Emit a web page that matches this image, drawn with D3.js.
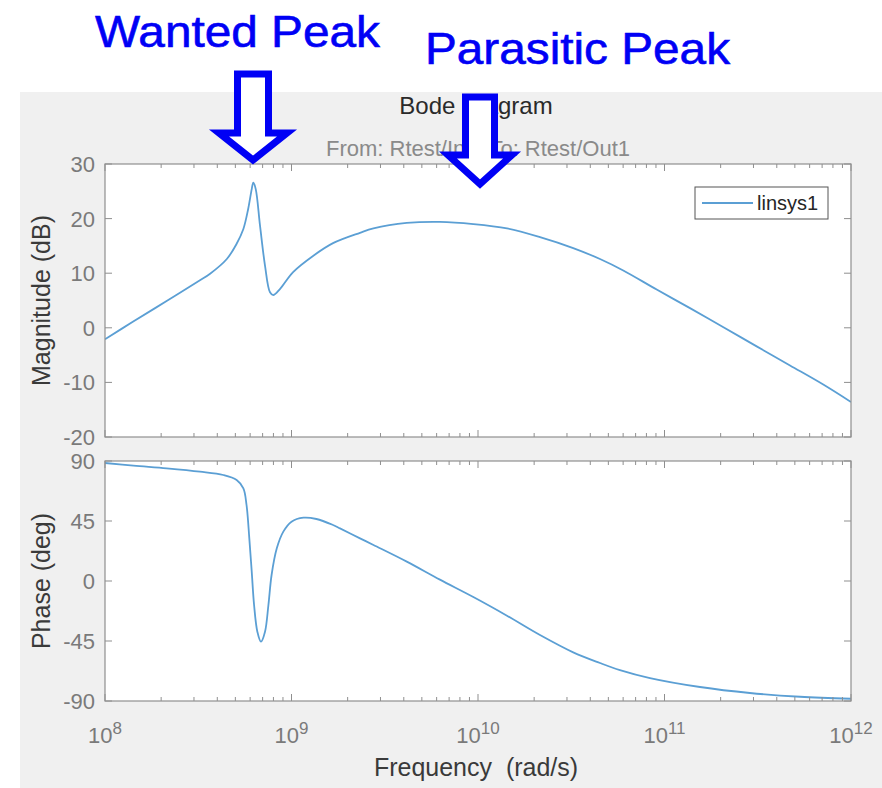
<!DOCTYPE html>
<html><head><meta charset="utf-8">
<script src="https://cdn.jsdelivr.net/npm/d3@7"></script>
<style>
body{margin:0;background:#fff}
svg{display:block}
text{font-family:"Liberation Sans",Arial,Helvetica,sans-serif}
</style>
</head><body>
<svg id="chart" width="882" height="788"></svg>
<script>
// ---- data ----
const magFreq = [1.0e8,1.41e8,2.14e8,3.23e8,3.66e8,4.50e8,5.08e8,5.52e8,5.86e8,6.12e8,6.24e8,6.43e8,6.78e8,7.21e8,7.67e8,7.98e8,8.67e8,1.02e9,1.31e9,1.67e9,2.33e9,2.75e9,4.15e9,6.25e9,9.44e9,1.43e10,2.15e10,3.24e10,4.51e10,6.01e10,9.08e10,1.37e11,2.07e11,3.12e11,4.71e11,7.10e11,1.0e12];
const magDb   = [-2.1,1.1,4.9,8.7,9.9,12.6,15.4,18.1,21.8,25.4,26.6,25.4,18.7,11.4,6.5,6.0,7.1,10.2,13.2,15.5,17.4,18.2,19.2,19.4,19.0,18.2,16.6,14.6,12.6,10.5,7.0,3.6,0.1,-3.4,-6.9,-10.4,-13.6];
const phaseFreq = [1.0e8,1.42e8,2.14e8,3.23e8,4.31e8,5.08e8,5.52e8,5.74e8,5.94e8,6.12e8,6.30e8,6.56e8,6.86e8,7.21e8,7.52e8,7.82e8,8.34e8,9.04e8,1.00e9,1.16e9,1.36e9,1.67e9,1.82e9,2.33e9,2.75e9,4.15e9,6.25e9,9.44e9,1.43e10,2.15e10,3.24e10,4.51e10,5.77e10,8.36e10,1.55e11,2.87e11,5.33e11,1.0e12];
const phaseDeg  = [88.5,86.5,84.5,82,79.5,75.8,69.5,57,32,7,-18,-38,-45.5,-38,-18,4.5,24.5,37,44.5,47.5,46.5,42,39.5,32,27,14.5,1,-12,-26,-40.5,-53.5,-61.5,-66.8,-72.8,-79.5,-84,-86.8,-88.3];
const magTicks = [30,20,10,0,-10,-20];
const phaseTicks = [90,45,0,-45,-90];
const decadeTicks = [1e8,1e9,1e10,1e11,1e12];
const decadeExp = ["8","9","10","11","12"];
const seriesName = "linsys1";
const titleText = "Bode Diagram";
const subtitleText = "From: Rtest/In1  To: Rtest/Out1";
const annotations = ["Wanted Peak","Parasitic Peak"];

// ---- layout ----
const svg = d3.select("#chart");
const L = 105, R = 851;
const magTop = 164, magBot = 437, phTop = 461, phBot = 701;
const axisCol = "#8f8f8f", tickTxt = "#7a7a7a", lineCol = "#5b9fd4";

svg.append("rect").attr("x",0).attr("y",0).attr("width",882).attr("height",788).attr("fill","#fff");
svg.append("rect").attr("x",20).attr("y",92).attr("width",862).attr("height",696).attr("fill","#f0f0f0");

const x = d3.scaleLog().domain([1e8,1e12]).range([L,R]);
const yMag = d3.scaleLinear().domain([-20,30]).range([magBot,magTop]);
const yPh = d3.scaleLinear().domain([-90,90]).range([phBot,phTop]);

const minor = [];
for (let k=8;k<12;k++) for (let m=2;m<=9;m++) minor.push(m*Math.pow(10,k));

function panel(y, ticks, freq, vals, id){
  const top = y.range()[1], bot = y.range()[0];
  const g = svg.append("g");
  g.append("rect").attr("x",L).attr("y",top).attr("width",R-L).attr("height",bot-top).attr("fill","#fff");
  svg.append("clipPath").attr("id",id).append("rect").attr("x",L).attr("y",top).attr("width",R-L).attr("height",bot-top);
  const line = d3.line().x(d=>x(d[0])).y(d=>y(d[1])).curve(d3.curveCatmullRom.alpha(0.5));
  g.append("path").datum(freq.map((f,i)=>[f,vals[i]]))
    .attr("d",line).attr("fill","none").attr("stroke",lineCol).attr("stroke-width",1.8)
    .attr("clip-path",`url(#${id})`);
  const tg = g.append("g").attr("stroke",axisCol).attr("stroke-width",1);
  decadeTicks.forEach(t=>{
    tg.append("line").attr("x1",x(t)).attr("x2",x(t)).attr("y1",top).attr("y2",top+7);
    tg.append("line").attr("x1",x(t)).attr("x2",x(t)).attr("y1",bot).attr("y2",bot-7);
  });
  minor.forEach(t=>{
    tg.append("line").attr("x1",x(t)).attr("x2",x(t)).attr("y1",top).attr("y2",top+4);
    tg.append("line").attr("x1",x(t)).attr("x2",x(t)).attr("y1",bot).attr("y2",bot-4);
  });
  ticks.forEach(t=>{
    tg.append("line").attr("x1",L).attr("x2",L+7).attr("y1",y(t)).attr("y2",y(t));
    tg.append("line").attr("x1",R).attr("x2",R-7).attr("y1",y(t)).attr("y2",y(t));
    g.append("text").attr("x",95).attr("y",y(t)).attr("dy","0.36em")
      .attr("text-anchor","end").attr("font-size",22).attr("fill",tickTxt).text(t);
  });
  g.append("rect").attr("x",L).attr("y",top).attr("width",R-L).attr("height",bot-top)
    .attr("fill","none").attr("stroke",axisCol).attr("stroke-width",1.2);
  return g;
}

panel(yMag, magTicks, magFreq, magDb, "clipMag");
panel(yPh, phaseTicks, phaseFreq, phaseDeg, "clipPh");

decadeTicks.forEach((t,i)=>{
  const tx = svg.append("text").attr("x",x(t)).attr("y",743).attr("text-anchor","middle")
    .attr("fill",tickTxt).attr("font-size",22);
  tx.append("tspan").text("10");
  tx.append("tspan").attr("font-size",17).attr("dy",-9).text(decadeExp[i]);
});

svg.append("text").attr("x",476).attr("y",776).attr("text-anchor","middle")
  .attr("font-size",25).attr("fill","#3a3a3a").attr("xml:space","preserve").text("Frequency  (rad/s)");
svg.append("text").attr("transform",`translate(50,${(magTop+magBot)/2}) rotate(-90)`)
  .attr("text-anchor","middle").attr("font-size",25).attr("fill","#3a3a3a").text("Magnitude (dB)");
svg.append("text").attr("transform",`translate(50,${(phTop+phBot)/2}) rotate(-90)`)
  .attr("text-anchor","middle").attr("font-size",25).attr("fill","#3a3a3a").text("Phase (deg)");

svg.append("text").attr("x",476).attr("y",114).attr("text-anchor","middle")
  .attr("font-size",24).attr("fill","#2a2a2a").text(titleText);
svg.append("text").attr("x",478).attr("y",156).attr("text-anchor","middle")
  .attr("font-size",22).attr("fill","#8a8a8a").attr("xml:space","preserve").text(subtitleText);

const lg = svg.append("g");
lg.append("rect").attr("x",695).attr("y",187).attr("width",133).attr("height",32)
  .attr("fill","#fff").attr("stroke","#555").attr("stroke-width",1);
lg.append("line").attr("x1",702).attr("x2",753).attr("y1",203).attr("y2",203)
  .attr("stroke",lineCol).attr("stroke-width",1.8);
lg.append("text").attr("x",757).attr("y",203).attr("dy","0.36em").attr("font-size",20)
  .attr("fill","#262626").text(seriesName);

const blue = "#0000f5";
svg.append("text").attr("x",95).attr("y",47).attr("font-family","'DejaVu Sans Condensed','DejaVu Sans',sans-serif")
  .attr("font-size",45).attr("fill",blue).attr("stroke",blue).attr("stroke-width",0.6)
  .attr("textLength",285).attr("lengthAdjust","spacingAndGlyphs").text(annotations[0]);
svg.append("text").attr("x",425).attr("y",64).attr("font-family","'DejaVu Sans Condensed','DejaVu Sans',sans-serif")
  .attr("font-size",45).attr("fill",blue).attr("stroke",blue).attr("stroke-width",0.6)
  .attr("textLength",305).attr("lengthAdjust","spacingAndGlyphs").text(annotations[1]);

function arrow(cx, top, shaftHalf, wingY, wingHalf, tipY){
  const pts = [[cx-shaftHalf,top],[cx+shaftHalf,top],[cx+shaftHalf,wingY],[cx+wingHalf,wingY],
               [cx,tipY],[cx-wingHalf,wingY],[cx-shaftHalf,wingY]];
  svg.append("path").attr("d","M"+pts.map(p=>p.join(",")).join("L")+"Z")
    .attr("fill","#fff").attr("stroke",blue).attr("stroke-width",7).attr("stroke-linejoin","miter")
    .attr("stroke-miterlimit",10);
}
arrow(253, 74, 15.5, 133, 34, 160);
arrow(480, 97, 14.5, 155, 32, 184);
</script>
</body></html>
